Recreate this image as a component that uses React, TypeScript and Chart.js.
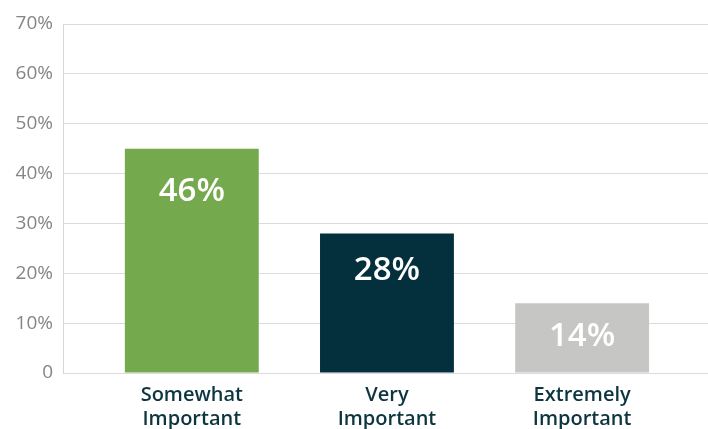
import React, { useEffect, useRef } from "react";
import { Chart, registerables } from "chart.js";

Chart.register(...registerables);

const categories: string[][] = [
  ["Somewhat", "Important"],
  ["Very", "Important"],
  ["Extremely", "Important"],
];
const values: number[] = [45, 28, 14];
const valueLabels: string[] = ["46%", "28%", "14%"];
const barColors: string[] = ["#74a94d", "#03303c", "#c6c6c4"];
const yTickValues: number[] = [0, 10, 20, 30, 40, 50, 60, 70];
const yTickLabels: string[] = ["0", "10%", "20%", "30%", "40%", "50%", "60%", "70%"];

const FONT = "'Open Sans', 'Noto Sans', sans-serif";

export default function App() {
  const ref = useRef<HTMLCanvasElement | null>(null);

  useEffect(() => {
    document.body.style.margin = "0";
    if (!ref.current) return;

    const valueLabelPlugin = {
      id: "valueLabels",
      afterDatasetsDraw(chart: any) {
        const ctx = chart.ctx;
        const meta = chart.getDatasetMeta(0);
        ctx.save();
        ctx.fillStyle = "#ffffff";
        ctx.font = `600 33px ${FONT}`;
        ctx.textAlign = "center";
        ctx.textBaseline = "middle";
        meta.data.forEach((bar: any, i: number) => {
          const h = bar.base - bar.y;
          ctx.fillText(valueLabels[i], bar.x, bar.y + 28.5 + 0.066 * h);
        });
        ctx.restore();
      },
    };

    const chart = new Chart(ref.current, {
      type: "bar",
      data: {
        datasets: [
          {
            data: values.map((v, i) => ({ x: i, y: v })),
            backgroundColor: barColors,
            borderWidth: 0,
            barPercentage: 0.686,
            categoryPercentage: 1,
          },
        ],
      },
      options: {
        animation: false,
        responsive: true,
        maintainAspectRatio: false,
        layout: { padding: { top: 24, left: 0, right: 0, bottom: 0 } },
        plugins: {
          legend: { display: false },
          tooltip: { enabled: false },
        },
        scales: {
          x: {
            type: "linear",
            min: -0.66,
            max: 2.645,
            offset: false,
            grid: { display: false },
            border: { display: false },
            afterBuildTicks: (scale: any) => {
              scale.ticks = categories.map((_, i) => ({ value: i }));
            },
            afterFit: (scale: any) => {
              scale.height = 56;
            },
            ticks: {
              autoSkip: false,
              maxRotation: 0,
              padding: 2,
              color: "#0d3540",
              font: { family: FONT, size: 20, weight: "600", lineHeight: 1.2 },
              callback: (v: any) => categories[Number(v)] ?? "",
            },
          },
          y: {
            min: 0,
            max: 70,
            afterBuildTicks: (scale: any) => {
              scale.ticks = yTickValues.map((v) => ({ value: v }));
            },
            afterFit: (scale: any) => {
              scale.width = 63;
            },
            grid: {
              color: "#dcdcdc",
              lineWidth: 1,
              drawTicks: false,
            },
            border: { display: true, color: "#d6d6d6", width: 1 },
            ticks: {
              padding: 10,
              color: "#858585",
              font: { family: FONT, size: 19, weight: "400" },
              callback: (v: any) => yTickLabels[yTickValues.indexOf(Number(v))] ?? "",
            },
          },
        },
      },
      plugins: [valueLabelPlugin],
    } as any);

    return () => chart.destroy();
  }, []);

  return (
    <div style={{ width: 708, height: 429, position: "relative" }}>
      <canvas ref={ref} />
    </div>
  );
}
